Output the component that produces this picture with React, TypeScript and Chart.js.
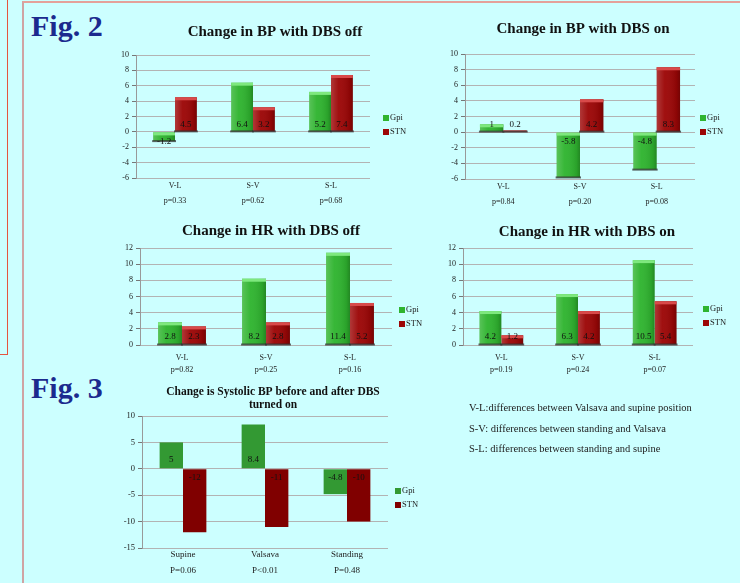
import React, { useEffect, useRef } from 'react';
import { Chart, registerables } from 'chart.js';

Chart.register(...registerables);

const FONT = "'Liberation Serif', 'Times New Roman', serif";

// ---------- data ----------
const seriesNames = ['Gpi', 'STN'];
const diffCategories = ['V-L', 'S-V', 'S-L'];

const bpOffP = ['p=0.33', 'p=0.62', 'p=0.68'];
const bpOffGpi = [-1.2, 6.4, 5.2];
const bpOffStn = [4.5, 3.2, 7.4];

const bpOnP = ['p=0.84', 'p=0.20', 'p=0.08'];
const bpOnGpi = [1, -5.8, -4.8];
const bpOnStn = [0.2, 4.2, 8.3];

const hrOffP = ['p=0.82', 'p=0.25', 'p=0.16'];
const hrOffGpi = [2.8, 8.2, 11.4];
const hrOffStn = [2.3, 2.8, 5.2];

const hrOnP = ['p=0.19', 'p=0.24', 'p=0.07'];
const hrOnGpi = [4.2, 6.3, 10.5];
const hrOnStn = [1.2, 4.2, 5.4];

const sysCategories = ['Supine', 'Valsava', 'Standing'];
const sysP = ['P=0.06', 'P<0.01', 'P=0.48'];
const sysGpi = [5, 8.4, -4.8];
const sysStn = [-12, -11, -10];

const bpAxis = [-6, 10, 2];
const hrAxis = [0, 12, 2];
const sysAxis = [-15, 10, 5];

const notes = [
  'V-L:differences between Valsava and supine position',
  'S-V: differences between standing and Valsava',
  'S-L: differences between standing and supine',
];

// ---------- plugins ----------
const barDeco = {
  id: 'barDeco',
  afterDatasetsDraw(chart: any, _a: any, opts: any) {
    if (!opts || !opts.enabled) return;
    const ctx = chart.ctx;
    chart.data.datasets.forEach((_ds: any, di: number) => {
      const meta = chart.getDatasetMeta(di);
      meta.data.forEach((el: any) => {
        const p = el.getProps(['x', 'y', 'base', 'width'], true);
        const left = p.x - p.width / 2;
        const top = Math.min(p.y, p.base);
        const h = Math.abs(p.base - p.y);
        ctx.save();
        const g = ctx.createLinearGradient(left, 0, left + p.width, 0);
        g.addColorStop(0, 'rgba(255,255,255,0.20)');
        g.addColorStop(0.35, 'rgba(255,255,255,0.04)');
        g.addColorStop(0.85, 'rgba(0,0,0,0.10)');
        g.addColorStop(1, 'rgba(0,0,0,0.25)');
        ctx.fillStyle = g;
        ctx.fillRect(left, top, p.width, h);
        ctx.fillStyle = opts.caps[di];
        ctx.fillRect(left, top, p.width, Math.min(3, h));
        ctx.fillStyle = 'rgba(50,50,50,0.75)';
        ctx.fillRect(left - 1, top + h - 1, p.width + 2, 2);
        ctx.restore();
      });
    });
  },
};

const baseLabels = {
  id: 'baseLabels',
  afterDatasetsDraw(chart: any, _a: any, opts: any) {
    const ctx = chart.ctx;
    const zero = chart.scales.y.getPixelForValue(0);
    ctx.save();
    ctx.font = `${opts.size}px ${FONT}`;
    ctx.fillStyle = '#111';
    ctx.textAlign = 'center';
    ctx.textBaseline = 'middle';
    chart.data.datasets.forEach((ds: any, di: number) => {
      const meta = chart.getDatasetMeta(di);
      meta.data.forEach((el: any, i: number) => {
        const v = ds.data[i];
        const y = v >= 0 ? zero - opts.offPos : zero + opts.offNeg;
        ctx.fillText(String(v), el.x, y);
      });
    });
    ctx.restore();
  },
};

const sideLegend = {
  id: 'sideLegend',
  afterDraw(chart: any, _a: any, opts: any) {
    const { ctx, chartArea } = chart;
    ctx.save();
    ctx.font = `${opts.size}px ${FONT}`;
    ctx.textBaseline = 'middle';
    ctx.textAlign = 'left';
    chart.data.datasets.forEach((ds: any, i: number) => {
      const x = chartArea.right + opts.dx;
      const y = chartArea.top + opts.dy + i * 14;
      ctx.fillStyle = ds.backgroundColor;
      ctx.fillRect(x, y - 3, 6, 6);
      ctx.fillStyle = '#222';
      ctx.fillText(ds.label, x + 7, y);
    });
    ctx.restore();
  },
};

// ---------- chart specs ----------
const green3d = '#2fb42f';
const red3d = '#9c0606';
const caps3d = ['#7ee87e', '#d84a4a'];

type Spec = {
  left: number; top: number; w: number; h: number;
  title: string | string[]; titleSize: number; titleLH: number; tpt: number; tpb: number;
  cats: string[]; pl: string[]; gpi: number[]; stn: number[];
  axis: number[]; yW: number; rightW: number; xH: number; xFont: number; xLH: number; xPad: number;
  tickSize: number; catPct: number; colors: string[]; deco: boolean;
  dx: number; dy: number; offPos: number; offNeg: number; labelSize: number;
};

const specs: Spec[] = [
  {
    left: 110, top: 15, w: 330, h: 195, title: 'Change in BP with DBS off', titleSize: 15, titleLH: 1.2, tpt: 8, tpb: 14,
    cats: diffCategories, pl: bpOffP, gpi: bpOffGpi, stn: bpOffStn, axis: bpAxis, yW: 26, rightW: 70,
    xH: 32, xFont: 8, xLH: 15 / 8, xPad: -8, tickSize: 8, catPct: 0.56, colors: [green3d, red3d], deco: true,
    dx: 13, dy: 63, offPos: 7, offNeg: 9.5, labelSize: 9,
  },
  {
    left: 430, top: 12, w: 306, h: 199, title: 'Change in BP with DBS on', titleSize: 15, titleLH: 1.2, tpt: 8, tpb: 16,
    cats: diffCategories, pl: bpOnP, gpi: bpOnGpi, stn: bpOnStn, axis: bpAxis, yW: 35, rightW: 41,
    xH: 32, xFont: 8, xLH: 15 / 8, xPad: -8, tickSize: 8, catPct: 0.61, colors: [green3d, red3d], deco: true,
    dx: 5, dy: 64, offPos: 7, offNeg: 10, labelSize: 9,
  },
  {
    left: 110, top: 214, w: 322, h: 161, title: 'Change in HR with DBS off', titleSize: 15, titleLH: 1.2, tpt: 8, tpb: 8,
    cats: diffCategories, pl: hrOffP, gpi: hrOffGpi, stn: hrOffStn, axis: hrAxis, yW: 30, rightW: 40,
    xH: 30, xFont: 8, xLH: 12 / 8, xPad: -1, tickSize: 8, catPct: 0.57, colors: [green3d, red3d], deco: true,
    dx: 7, dy: 62, offPos: 8, offNeg: 8, labelSize: 9,
  },
  {
    left: 440, top: 215, w: 294, h: 160, title: 'Change in HR with DBS on', titleSize: 15, titleLH: 1.2, tpt: 8, tpb: 7,
    cats: diffCategories, pl: hrOnP, gpi: hrOnGpi, stn: hrOnStn, axis: hrAxis, yW: 23, rightW: 41,
    xH: 30, xFont: 8, xLH: 12 / 8, xPad: -1, tickSize: 8, catPct: 0.57, colors: [green3d, red3d], deco: true,
    dx: 10, dy: 61, offPos: 8, offNeg: 8, labelSize: 9,
  },
  {
    left: 110, top: 380, w: 326, h: 198,
    title: ['Change is Systolic BP before and after DBS', 'turned on'], titleSize: 11.5, titleLH: 13 / 11.5, tpt: 6, tpb: 4,
    cats: sysCategories, pl: sysP, gpi: sysGpi, stn: sysStn, axis: sysAxis, yW: 32, rightW: 48,
    xH: 30, xFont: 9, xLH: 16 / 9, xPad: -9, tickSize: 8.5, catPct: 0.57, colors: ['#339933', '#800000'], deco: false,
    dx: 7, dy: 75, offPos: 9, offNeg: 9, labelSize: 9,
  },
];

function buildConfig(s: Spec): any {
  return {
    type: 'bar',
    data: {
      labels: s.cats.map((c, i) => [c, s.pl[i]]),
      datasets: [
        { label: seriesNames[0], data: s.gpi, backgroundColor: s.colors[0], borderWidth: 0, categoryPercentage: s.catPct, barPercentage: 1 },
        { label: seriesNames[1], data: s.stn, backgroundColor: s.colors[1], borderWidth: 0, categoryPercentage: s.catPct, barPercentage: 1 },
      ],
    },
    options: {
      animation: false,
      responsive: false,
      maintainAspectRatio: false,
      layout: { padding: 0 },
      plugins: {
        legend: { display: false },
        tooltip: { enabled: false },
        title: {
          display: true, text: s.title, color: '#111',
          font: { family: FONT, size: s.titleSize, weight: 'bold', lineHeight: s.titleLH },
          padding: { top: s.tpt, bottom: s.tpb },
        },
        barDeco: { enabled: s.deco, caps: caps3d },
        baseLabels: { size: s.labelSize, offPos: s.offPos, offNeg: s.offNeg },
        sideLegend: { size: 8.5, dx: s.dx, dy: s.dy },
      },
      scales: {
        x: {
          grid: { display: false },
          border: { display: false },
          ticks: { font: { family: FONT, size: s.xFont, lineHeight: s.xLH }, color: '#222', padding: s.xPad, autoSkip: false, maxRotation: 0 },
          afterFit: (sc: any) => { sc.height = s.xH; },
        },
        y: {
          min: s.axis[0], max: s.axis[1],
          ticks: { stepSize: s.axis[2], font: { family: FONT, size: s.tickSize }, color: '#222', padding: 3 },
          grid: { color: '#b3b3b3', tickLength: 4, tickColor: '#777' },
          border: { display: true, color: '#999' },
          afterFit: (sc: any) => { sc.width = s.yW; },
        },
        y2: {
          type: 'linear', position: 'right', display: true,
          grid: { display: false }, border: { display: false }, ticks: { display: false },
          afterFit: (sc: any) => { sc.width = s.rightW; },
        },
      },
    },
    plugins: [barDeco, baseLabels, sideLegend],
  };
}

function BarPanel({ spec }: { spec: Spec }) {
  const ref = useRef<HTMLCanvasElement | null>(null);
  useEffect(() => {
    if (!ref.current) return;
    const chart = new Chart(ref.current, buildConfig(spec));
    return () => chart.destroy();
  }, [spec]);
  return (
    <canvas
      ref={ref}
      width={spec.w}
      height={spec.h}
      style={{ position: 'absolute', left: spec.left, top: spec.top, width: spec.w, height: spec.h }}
    />
  );
}

export default function App() {
  const figStyle: React.CSSProperties = {
    position: 'absolute', left: 31, fontFamily: FONT, fontWeight: 'bold', fontSize: 30,
    lineHeight: '30px', color: '#1b2a8e', whiteSpace: 'nowrap',
  };
  return (
    <div style={{ position: 'fixed', left: 0, top: 0, width: 740, height: 583, background: '#ccffff', overflow: 'hidden' }}>
      <div style={{ position: 'absolute', left: -2, top: -2, width: 9, height: 356, borderRight: '1.5px solid #e5553f', borderBottom: '1.5px solid #e5553f' }} />
      <div style={{ position: 'absolute', left: 22, top: 1, width: 760, height: 620, borderLeft: '2px solid #cfa3a3', borderTop: '2px solid #e4a19a' }} />
      <div style={{ ...figStyle, top: 11 }}>Fig. 2</div>
      <div style={{ ...figStyle, top: 373 }}>Fig. 3</div>
      {specs.map((s, i) => <BarPanel key={i} spec={s} />)}
      {notes.map((t, i) => (
        <div key={t} style={{ position: 'absolute', left: 469, top: 401 + i * 20.5, fontFamily: FONT, fontSize: 10.5, lineHeight: '14px', color: '#222', whiteSpace: 'nowrap' }}>{t}</div>
      ))}
    </div>
  );
}
